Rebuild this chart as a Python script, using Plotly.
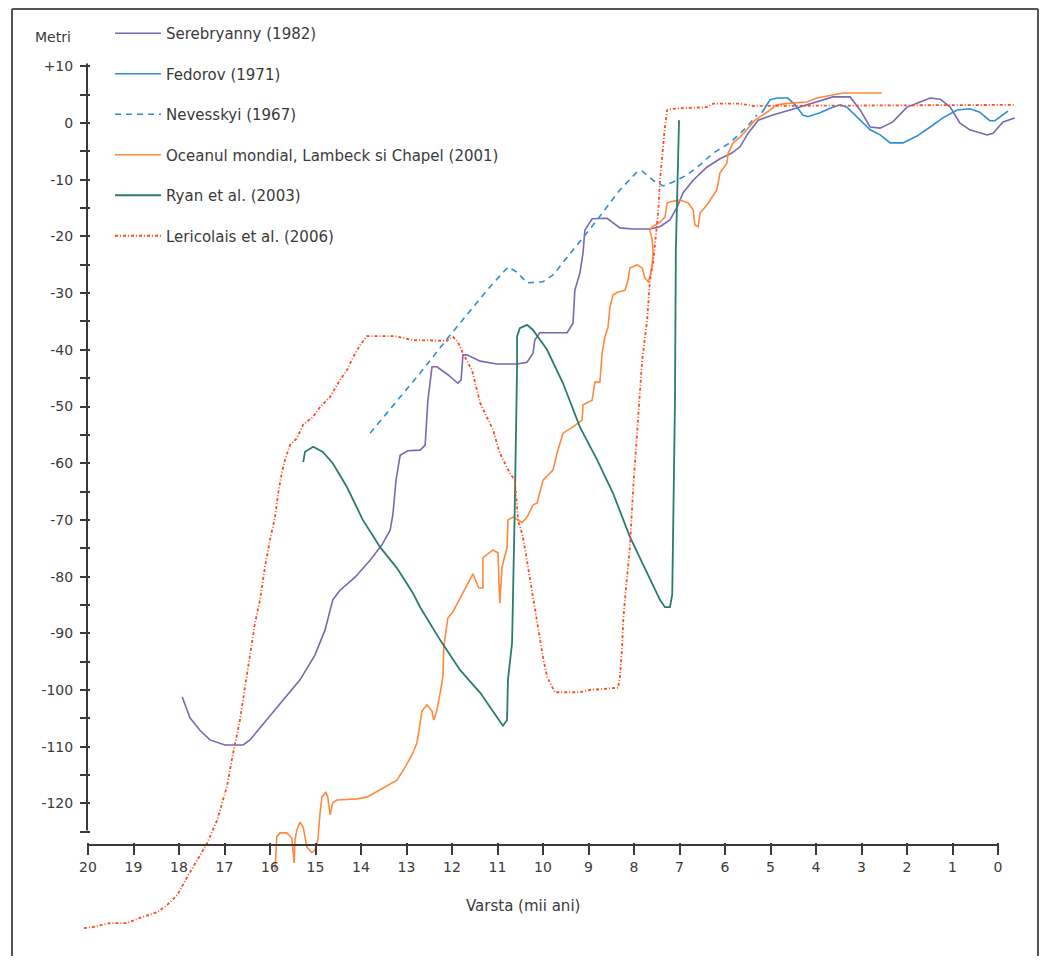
import plotly.graph_objects as go

# ---------------- data (age in ka BP, level in m) ----------------
serebryanny_x = [17.93, 17.76, 17.54, 17.32, 16.99, 16.59, 16.44, 16.18, 15.78, 15.34, 15.01, 14.79,
                 14.62, 14.46, 14.13, 13.80, 13.54, 13.36, 13.30, 13.23, 13.14, 12.97, 12.70, 12.59,
                 12.53, 12.44, 12.33, 12.09, 11.87, 11.80, 11.76, 11.67, 11.38, 11.01, 10.57, 10.35,
                 10.22, 10.18, 10.07, 9.47, 9.34, 9.30, 9.19, 9.12, 9.08, 8.92, 8.59, 8.31, 8.02,
                 7.65, 7.43, 7.21, 7.05, 6.92, 6.70, 6.40, 6.11, 5.85, 5.67, 5.49, 5.27, 4.95, 4.57,
                 4.07, 3.63, 3.25, 3.03, 2.81, 2.59, 2.31, 2.00, 1.71, 1.49, 1.27, 1.05, 0.84, 0.62,
                 0.24, 0.11, -0.11, -0.37]
serebryanny_y = [-101.2, -104.9, -107.1, -108.8, -109.7, -109.7, -108.8, -106.3, -102.6, -98.2, -93.8, -89.4,
                 -84.1, -82.4, -80.1, -77.1, -74.4, -71.8, -69.1, -63.0, -58.6, -57.8, -57.7, -56.8,
                 -48.9, -43.0, -43.0, -44.4, -45.9, -45.3, -40.9, -40.9, -42.0, -42.5, -42.5, -42.2,
                 -40.6, -38.3, -37.0, -37.0, -35.3, -29.5, -26.5, -22.9, -18.9, -16.9, -16.8, -18.5, -18.7,
                 -18.7, -18.3, -17.1, -14.8, -12.3, -10.1, -7.8, -6.3, -5.3, -4.2, -1.8, 0.5, 1.4, 2.3,
                 3.5, 4.6, 4.6, 2.3, -0.7, -0.9, 0.2, 2.8, 3.7, 4.4, 4.2, 2.8, 0.0, -1.2,
                 -2.1, -1.8, 0.2, 0.9]

fedorov_x = [5.19, 5.01, 4.86, 4.62, 4.46, 4.29, 4.18, 3.91, 3.69, 3.47, 3.32, 3.10, 2.81, 2.59,
             2.37, 2.09, 1.78, 1.49, 1.21, 0.90, 0.62, 0.40, 0.18, 0.07, -0.11, -0.22]
fedorov_y = [1.8, 4.1, 4.4, 4.4, 3.2, 1.4, 1.1, 1.8, 2.6, 3.2, 2.8, 1.1, -1.2, -2.1,
             -3.5, -3.5, -2.3, -0.7, 0.9, 2.3, 2.5, 1.9, 0.4, 0.4, 1.4, 2.1]

nevesskyi_x = [13.80, 12.70, 12.04, 11.23, 10.77, 10.57, 10.35, 10.00, 9.78, 9.34, 8.81, 8.31,
               7.93, 7.82, 7.58, 7.36, 7.14, 6.84, 6.55, 6.26, 5.89, 5.52, 5.30]
nevesskyi_y = [-54.7, -44.1, -37.4, -29.5, -25.4, -26.3, -28.2, -28.0, -26.8, -22.4, -17.1, -11.8,
               -8.6, -8.5, -10.1, -11.1, -10.4, -9.2, -7.4, -5.3, -3.5, -0.7, 1.4]

ocean_x = [15.89, 15.85, 15.78, 15.63, 15.52, 15.49, 15.47, 15.45, 15.41, 15.34, 15.27, 15.19, 15.08,
           15.01, 14.95, 14.90, 14.86, 14.77, 14.73, 14.68, 14.62, 14.53, 14.09, 13.87, 13.58, 13.21,
           13.03, 12.86, 12.77, 12.70, 12.66, 12.55, 12.44, 12.40, 12.33, 12.26, 12.20, 12.18, 12.11,
           12.09, 11.98, 11.82, 11.69, 11.54, 11.41, 11.32, 11.32, 11.10, 10.99, 10.95, 10.90, 10.79,
           10.77, 10.66, 10.55, 10.46, 10.35, 10.22, 10.13, 10.00, 9.78, 9.69, 9.56, 9.34, 9.14, 9.12,
           8.92, 8.86, 8.75, 8.70, 8.64, 8.57, 8.53, 8.46, 8.35, 8.20, 8.13, 8.09, 7.93, 7.82, 7.76,
           7.69, 7.65, 7.60, 7.58, 7.60, 7.65, 7.60, 7.43, 7.32, 7.27, 7.21, 6.99, 6.81, 6.70, 6.66,
           6.59, 6.55, 6.40, 6.18, 6.11, 5.96, 5.93, 5.82, 5.67, 5.52, 5.34, 5.08, 4.86, 4.57, 4.20,
           3.98, 3.69, 3.41, 2.55]
ocean_y = [-131.7, -125.9, -125.2, -125.2, -126.1, -128.2, -130.5, -126.4, -124.7, -123.3, -124.2, -127.7, -128.7,
           -128.2, -126.5, -121.7, -118.9, -118.0, -118.9, -122.0, -119.9, -119.4, -119.2, -118.9, -117.6, -115.9,
           -113.6, -111.1, -109.3, -105.3, -103.7, -102.6, -103.7, -105.3, -103.5, -100.5, -97.7, -92.4, -88.9,
           -87.3, -86.2, -83.8, -81.7, -79.5, -82.0, -82.0, -76.7, -75.3, -75.8, -84.7, -78.3, -74.8,
           -70.0, -69.5, -70.0, -70.5, -69.5, -67.4, -67.0, -63.0, -61.2, -58.2, -54.7, -53.6, -52.4, -49.7,
           -48.9, -45.7, -45.7, -40.6, -37.7, -36.0, -32.5, -30.3, -29.8, -29.5, -27.7, -25.6, -25.0, -25.6, -27.3,
           -28.0, -27.2, -25.0, -22.8, -20.6, -18.9, -18.3, -17.5, -16.6, -14.1, -13.9, -13.6, -14.1, -15.3, -18.0,
           -18.3, -15.9, -14.5, -11.8, -8.8, -7.1, -5.3, -3.5, -2.5, -1.2, 0.5, 1.9, 3.2, 3.5, 3.7,
           4.4, 4.9, 5.3, 5.3]

ryan_x = [15.27, 15.23, 15.05, 14.84, 14.62, 14.31, 13.96, 13.58, 13.21, 12.86, 12.70, 12.55, 12.26,
          11.82, 11.38, 11.01, 10.88, 10.79, 10.77, 10.68, 10.66, 10.62, 10.57, 10.57, 10.51, 10.35,
          10.22, 9.91, 9.56, 9.19, 8.81, 8.46, 8.09, 7.71, 7.43, 7.32, 7.21, 7.16, 7.14, 7.10, 7.08,
          7.05, 7.01]
ryan_y = [-59.8, -58.0, -57.1, -58.0, -60.0, -64.2, -70.0, -74.8, -78.5, -82.9, -85.4, -87.3, -91.2,
          -96.5, -100.5, -104.8, -106.3, -105.3, -98.2, -91.7, -84.1, -67.7, -43.0, -37.7, -36.2, -35.6,
          -36.5, -40.0, -45.9, -53.6, -59.4, -65.3, -73.0, -79.4, -84.1, -85.4, -85.4, -83.2, -73.2, -49.4, -22.4,
          -10.1, 0.5]

lericolais_x = [20.09, 19.89, 19.52, 19.14, 18.86, 18.48, 18.26, 18.04, 17.82, 17.60, 17.38, 17.16,
                16.95, 16.81, 16.66, 16.55, 16.44, 16.33, 16.22, 16.11, 16.00, 15.89, 15.82, 15.74,
                15.67, 15.56, 15.41, 15.27, 15.05, 14.90, 14.68, 14.46, 14.31, 14.18, 14.02, 13.87,
                13.25, 12.86, 12.11, 11.98, 11.87, 11.76, 11.56, 11.38, 11.10, 10.95, 10.73, 10.62,
                10.57, 10.55, 10.44, 10.33, 10.22, 10.11, 10.00, 9.91, 9.74, 9.19, 8.97, 8.35, 8.31,
                8.26, 8.24, 8.20, 8.09, 8.02, 7.91, 7.82, 7.71, 7.65, 7.58, 7.54, 7.49, 7.47, 7.43,
                7.38, 7.32, 7.27, 7.16, 6.99, 6.40, 6.26, 5.67, 5.38, -0.37]
lericolais_y = [-142.0, -141.8, -141.1, -141.1, -140.2, -139.2, -137.9, -136.2, -133.0, -130.0, -127.0, -122.9,
                -117.1, -111.1, -105.3, -99.5, -93.5, -88.2, -84.1, -78.3, -73.5, -69.5, -65.3, -61.7,
                -59.4, -56.8, -55.6, -53.2, -51.8, -50.1, -48.3, -45.3, -43.6, -41.4, -39.2, -37.6,
                -37.6, -38.3, -38.4, -37.7, -38.6, -40.6, -43.6, -49.4, -54.1, -58.2, -61.7, -63.0,
                -67.7, -70.0, -73.0, -78.3, -83.6, -89.4, -94.2, -97.7, -100.4, -100.4, -100.0, -99.6, -97.7,
                -92.4, -88.2, -84.1, -74.8, -64.7, -52.9, -41.8, -34.7, -27.7, -24.7, -21.9, -18.3, -15.9, -10.1,
                -5.3, -0.7, 2.3, 2.5, 2.6, 2.8, 3.4, 3.4, 3.0, 3.2]

names = ["Serebryanny (1982)", "Fedorov (1971)", "Nevesskyi (1967)",
         "Oceanul mondial, Lambeck si Chapel (2001)", "Ryan et al. (2003)", "Lericolais et al. (2006)"]

x_ticks = list(range(20, -1, -1))
x_ticktext = [str(v) for v in x_ticks]
y_ticks = list(range(-125, 11, 5))
y_ticktext = [("+" + str(v) if v > 0 else str(v)) if v % 10 == 0 else "" for v in y_ticks]

# ---------------- layout geometry (page pixels, page has an 8px body margin) ----------------
OFF = 8
W, H = 1048 - 2 * OFF, 964 - 2 * OFF
X0PX, XS = 998.0 - OFF, 45.5      # px of age 0, px per ka
Y0PX, YS = 123.0 - OFF, 5.67      # px of level 0, px per metre
XR = [20.3, -0.6]
YR = [-144.0, 12.0]


def xpx(v):
    return X0PX - v * XS


def ypx(v):
    return Y0PX - v * YS


def px(p):      # page px -> paper x
    return (p - OFF) / W


def py(p):      # page px -> paper y
    return 1 - (p - OFF) / H


x_dom = [xpx(XR[0]) / W, xpx(XR[1]) / W]
y_dom = [1 - ypx(YR[0]) / H, 1 - ypx(YR[1]) / H]

AX = "#3a3a3a"
FRAME = "#555555"
FONT = "DejaVu Sans"

colors = ["#7b67b3", "#2b8ed8", "#2b8ed8", "#ff8a3d", "#2d7b6e", "#ff4b1f"]
dashes = ["solid", "solid", "6px,5px", "solid", "solid", "3px,2px,1px,2px"]
widths = [1.6, 1.6, 1.6, 1.6, 1.8, 1.8]
xs = [serebryanny_x, fedorov_x, nevesskyi_x, ocean_x, ryan_x, lericolais_x]
ys = [serebryanny_y, fedorov_y, nevesskyi_y, ocean_y, ryan_y, lericolais_y]

fig = go.Figure()
for i in range(6):
    fig.add_trace(go.Scatter(
        x=xs[i], y=ys[i], mode="lines", name=names[i], legendgroup="g%d" % i,
        line=dict(color=colors[i], width=widths[i], dash=dashes[i]),
        hoverinfo="skip"))

fig.update_layout(
    width=W, height=H, autosize=False,
    margin=dict(l=0, r=0, t=0, b=0),
    paper_bgcolor="white", plot_bgcolor="white",
    font=dict(family=FONT, size=14, color=AX),
    showlegend=True,
    legend=dict(x=px(110), y=py(17), xanchor="left", yanchor="top",
                bgcolor="rgba(0,0,0,0)", borderwidth=0, tracegroupgap=18,
                itemwidth=46, font=dict(family=FONT, size=15, color=AX)),
    xaxis=dict(range=XR, domain=x_dom, anchor="free", position=py(842),
               showgrid=False, zeroline=False, showline=False,
               tickmode="array", tickvals=x_ticks, ticktext=x_ticktext,
               ticks="outside", ticklen=12, tickwidth=1.5, tickcolor=AX,
               tickfont=dict(family=FONT, size=14, color=AX)),
    yaxis=dict(range=YR, domain=y_dom, anchor="free", position=px(90),
               showgrid=False, zeroline=False, showline=False,
               tickmode="array", tickvals=y_ticks, ticktext=y_ticktext,
               ticks="outside", ticklen=10, tickwidth=1.5, tickcolor=AX,
               ticklabelstandoff=4,
               tickfont=dict(family=FONT, size=14, color=AX)),
)

# axis lines
fig.add_shape(type="line", xref="x", yref="paper", x0=20, x1=0,
              y0=py(845), y1=py(845), line=dict(color=AX, width=2))
fig.add_shape(type="line", xref="paper", yref="y", x0=px(87), x1=px(87),
              y0=-124.8, y1=10.5, line=dict(color=AX, width=2))
# outer frame (left, top, right edges)
fig.add_shape(type="line", xref="paper", yref="paper", x0=px(12), x1=px(12), y0=-0.05, y1=py(9),
              line=dict(color=FRAME, width=2))
fig.add_shape(type="line", xref="paper", yref="paper", x0=px(12), x1=px(1038), y0=py(9), y1=py(9),
              line=dict(color=FRAME, width=2))
fig.add_shape(type="line", xref="paper", yref="paper", x0=px(1038), x1=px(1038), y0=-0.05, y1=py(9),
              line=dict(color=FRAME, width=2))

fig.add_annotation(text="Metri", xref="paper", yref="paper", x=px(53), y=py(37),
                   showarrow=False, xanchor="center", yanchor="middle",
                   font=dict(family=FONT, size=14, color=AX))
fig.add_annotation(text="Varsta (mii ani)", xref="paper", yref="paper", x=px(523), y=py(906),
                   showarrow=False, xanchor="center", yanchor="middle",
                   font=dict(family=FONT, size=15, color=AX))

fig.write_html("out.html")
